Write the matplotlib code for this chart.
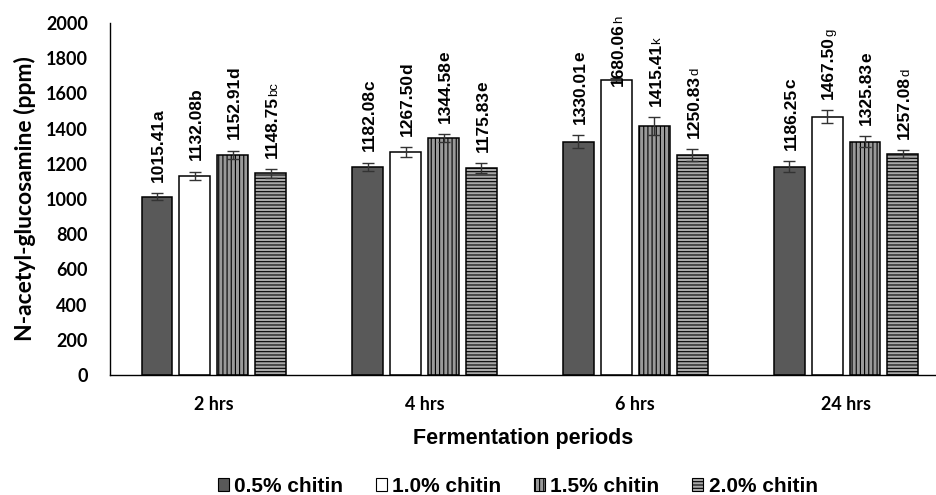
import numpy as np
import matplotlib
matplotlib.use("Agg")
import matplotlib.pyplot as plt
from matplotlib.patches import Patch
from matplotlib.textpath import TextPath
from matplotlib.font_manager import FontProperties

periods = ["2 hrs", "4 hrs", "6 hrs", "24 hrs"]
series = ["0.5% chitin", "1.0% chitin", "1.5% chitin", "2.0% chitin"]

# bar heights as drawn (rows = series, cols = periods)
heights = [
    [1013, 1184, 1326, 1184],
    [1131, 1265, 1676, 1468],
    [1250, 1345, 1415, 1326],
    [1146, 1174, 1250, 1256],
]
errors = [
    [19, 23, 38, 32],
    [25, 28, 10, 38],
    [25, 23, 49, 32],
    [25, 28, 34, 23],
]
# printed labels: number, letter
label_nums = [
    ["1015.41", "1182.08", "1330.01", "1186.25"],
    ["1132.08", "1267.50", "1680.06", "1467.50"],
    ["1152.91", "1344.58", "1415.41", "1325.83"],
    ["1148.75", "1175.83", "1250.83", "1257.08"],
]
label_letters = [
    ["a", "c", "e", "c"],
    ["b", "d", "h", "g"],
    ["d", "e", "k", "e"],
    ["bc", "e", "d", "d"],
]
small_letter = [
    [False, False, False, False],
    [False, False, True, True],
    [False, False, True, False],
    [True, False, True, True],
]

faces = ["#595959", "white", "#9a9a9a", "#a8a8a8"]
hatches = [None, None, "||||", "-----"]

plt.rcParams["hatch.linewidth"] = 0.8

fig = plt.figure(figsize=(9.36, 4.95), dpi=100)
ax = fig.add_axes([110 / 936, 120 / 495, 826 / 936, 352 / 495])

x = np.arange(len(periods))
width = 0.147
step = 0.18
offsets = (np.arange(4) - 1.5) * step

fs = 12.5
numprop = FontProperties(family="Liberation Sans", weight="bold", size=fs)

for i in range(4):
    ax.bar(x + offsets[i], heights[i], width, color=faces[i], edgecolor="black",
           linewidth=1.1, hatch=hatches[i], zorder=2)
    ax.errorbar(x + offsets[i], heights[i], yerr=errors[i], fmt="none",
                ecolor="#333333", elinewidth=1, capsize=4, capthick=1, zorder=3)
    for j in range(4):
        xi = x[j] + offsets[i]
        ytop = heights[i][j] + errors[i][j]
        pad = 8
        if i == 1 and j == 2:
            # this one sits lower in the original, overlapping the bar top
            ytop = heights[i][j]
            pad = -4
        num = label_nums[i][j]
        ax.annotate(num, xy=(xi, ytop), xytext=(0.36 * fs, pad),
                    textcoords="offset points", rotation=90,
                    rotation_mode="anchor", ha="left", va="baseline",
                    fontproperties=numprop, color="black", annotation_clip=False)
        w = TextPath((0, 0), num, prop=numprop).get_extents().width + 1
        lfs = 9.5 if small_letter[i][j] else fs
        lw = "normal" if small_letter[i][j] else "bold"
        ax.annotate(label_letters[i][j], xy=(xi, ytop),
                    xytext=(0.36 * fs, pad + w), textcoords="offset points",
                    rotation=90, rotation_mode="anchor", ha="left", va="baseline",
                    family="Liberation Sans", fontsize=lfs, fontweight=lw,
                    color="black", annotation_clip=False)

ax.set_xlim(-0.493, 3.427)
ax.set_ylim(0, 2000)
ax.set_yticks(np.arange(0, 2001, 200))
ax.set_xticks(x)
ax.set_xticklabels(periods, family="Lato", fontweight="bold", fontsize=13)
for t in ax.get_yticklabels():
    t.set_family("Lato")
    t.set_fontweight("bold")
    t.set_fontsize(13)
ax.tick_params(axis="both", length=0)
ax.tick_params(axis="y", pad=16)
ax.tick_params(axis="x", pad=15)

for s in ["top", "right"]:
    ax.spines[s].set_visible(False)
for s in ["left", "bottom"]:
    ax.spines[s].set_linewidth(1.0)
    ax.spines[s].set_color("black")

ax.set_ylabel("N-acetyl-glucosamine (ppm)", family="Lato", fontweight="bold",
              fontsize=16.5)
ax.yaxis.set_label_coords(-0.09, 0.5)
ax.set_xlabel("Fermentation periods", family="Liberation Sans",
              fontweight="bold", fontsize=15.5)
ax.xaxis.set_label_coords(0.5, -0.15)

handles = [Patch(facecolor=faces[i], edgecolor="black", hatch=hatches[i],
                 linewidth=0.8, label=series[i]) for i in range(4)]
fig.legend(handles=handles, loc="lower center", bbox_to_anchor=(0.553, -0.04),
           ncol=4, frameon=False, handlelength=0.55, handleheight=0.55,
           handletextpad=0.25, columnspacing=1.55,
           prop=FontProperties(family="Liberation Sans", weight="bold", size=15))

fig.savefig("out.png", dpi=100)
